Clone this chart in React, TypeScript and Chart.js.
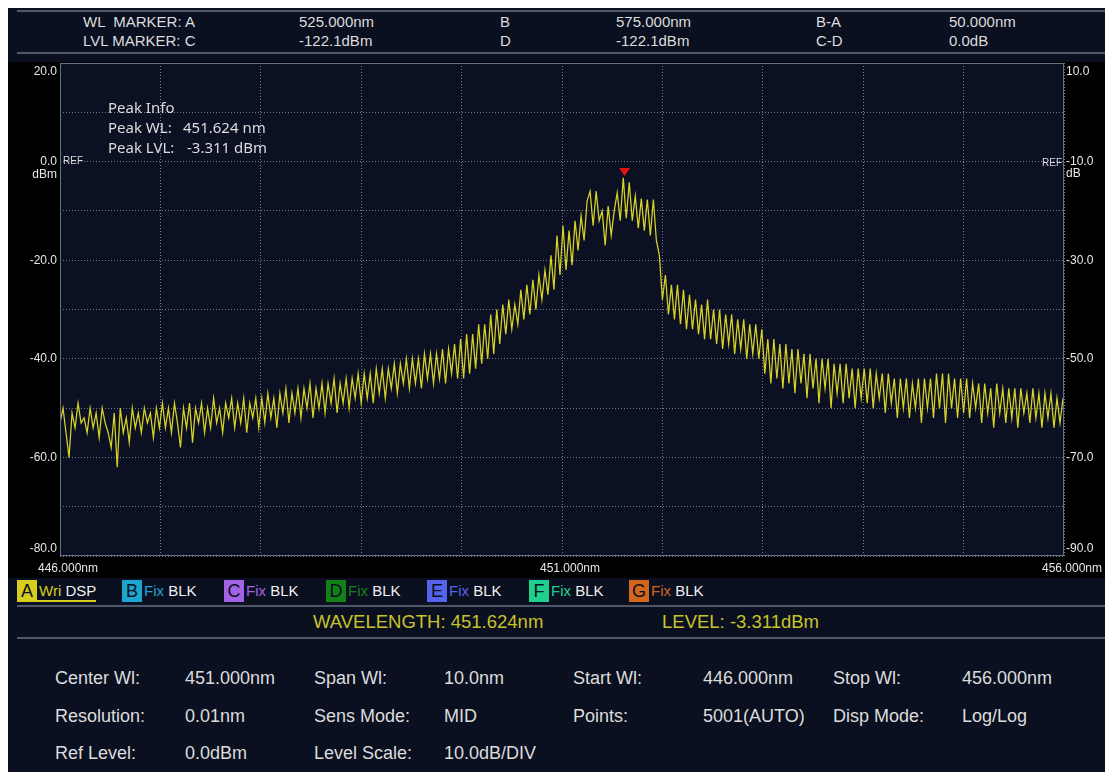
import React, { useEffect, useRef } from "react";
import { Chart, registerables } from "chart.js";

Chart.register(...registerables);

// ---------------- data ----------------
const startWl = 446.0;
const stepWl = 0.03;

const lvl446 = [-53, -50, -55, -60, -51, -54, -49, -53, -52, -55, -50, -54, -51, -56, -50, -53, -55, -58, -51, -62, -50, -55, -52, -57, -50, -54, -51, -55, -50, -53, -51, -56, -50, -54];
const lvl447 = [-49, -54, -50, -55, -49, -53, -58, -50, -54, -49, -57, -50, -53, -49, -55, -50, -54, -48, -53, -50, -55, -49, -52, -48, -54, -49, -53, -48, -55, -49, -52, -48, -54];
const lvl448 = [-48, -53, -47, -52, -48, -54, -47, -51, -46, -53, -47, -51, -46, -52, -46, -50, -45, -52, -46, -50, -45, -51, -45, -49, -44, -51, -45, -49, -44, -50, -44, -48, -43];
const lvl449 = [-49, -43, -48, -43, -49, -42, -47, -42, -48, -42, -46, -41, -47, -41, -45, -40, -46, -40, -45, -40, -46, -39, -44, -39, -45, -39, -44, -38, -45, -38, -43, -37, -44];
const lvl450 = [-36, -44, -35, -43, -35, -42, -33, -41, -33, -40, -31, -39, -30, -37, -29, -35, -28, -34, -29, -33, -26, -32, -25, -31, -24, -30, -23, -28, -22, -27, -19, -26, -15, -23];
const lvl451 = [-13, -22, -14, -21, -12, -18, -11, -16, -8, -6, -13, -6, -12, -10, -17, -9, -15, -10, -6.3, -12, -3.3, -11.5, -4.2, -12, -7, -13.5, -7.5, -14, -7.7, -15, -7.7, -16, -19];
const lvl452 = [-28, -23, -31, -25, -32, -25, -33, -26, -34, -27, -34, -28, -35, -29, -36, -28, -36, -30, -37, -30, -38, -31, -37, -31, -39, -32, -38, -32, -40, -33, -39, -33, -40, -34];
const lvl453 = [-43, -36, -45, -36, -44, -37, -46, -37, -45, -38, -47, -38, -45, -39, -48, -39, -46, -40, -49, -40, -46, -40, -50, -41, -47, -41, -49, -41, -48, -42, -50, -42, -48];
const lvl454 = [-42, -49, -42, -50, -43, -48, -43, -51, -43, -49, -44, -52, -44, -50, -44, -52, -45, -50, -44, -53, -44, -50, -44, -52, -43, -50, -43, -53, -43, -50, -44, -52, -44];
const lvl455 = [-51, -44, -52, -45, -50, -45, -53, -45, -51, -46, -54, -45, -51, -46, -53, -46, -52, -46, -54, -46, -51, -47, -53, -46, -52, -47, -54, -47, -52, -47, -54, -48, -53, -48];

const traceLevels = [...lvl446, ...lvl447, ...lvl448, ...lvl449, ...lvl450, ...lvl451, ...lvl452, ...lvl453, ...lvl454, ...lvl455];

const xMin = 446;
const xMax = 456;
const xTickValues = [446, 451, 456];
const xTickTexts = ["446.000nm", "451.000nm", "456.000nm"];

const leftMin = -80;
const leftMax = 20;
const leftTickValues = [20, 0, -20, -40, -60, -80];
const leftTickTexts = ["20.0", "0.0", "-20.0", "-40.0", "-60.0", "-80.0"];
const leftUnit = "dBm";

const rightMin = -90;
const rightMax = 10;
const rightTickValues = [10, -10, -30, -50, -70, -90];
const rightTickTexts = ["10.0", "-10.0", "-30.0", "-50.0", "-70.0", "-90.0"];
const rightUnit = "dB";

const refLevel = 0;
const peakWl = 451.624;
const peakLvl = -3.311;

const headerRow1 = ["WL  MARKER: A", "525.000nm", "B", "575.000nm", "B-A", "50.000nm"];
const headerRow2 = ["LVL MARKER: C", "-122.1dBm", "D", "-122.1dBm", "C-D", "0.0dB"];

const traceLetters = ["A", "B", "C", "D", "E", "F", "G"];
const traceModes = ["Wri", "Fix", "Fix", "Fix", "Fix", "Fix", "Fix"];
const traceStates = ["DSP", "BLK", "BLK", "BLK", "BLK", "BLK", "BLK"];
const traceColors = ["#d6cd1e", "#1ca6cf", "#a363e6", "#14801a", "#5563ec", "#1fd08f", "#d1661c"];

const infoLabels = [
  ["Center Wl:", "Span Wl:", "Start Wl:", "Stop Wl:"],
  ["Resolution:", "Sens Mode:", "Points:", "Disp Mode:"],
  ["Ref Level:", "Level Scale:"],
];
const infoValues = [
  ["451.000nm", "10.0nm", "446.000nm", "456.000nm"],
  ["0.01nm", "MID", "5001(AUTO)", "Log/Log"],
  ["0.0dBm", "10.0dB/DIV"],
];

// ---------------- styles ----------------
const FONT = '"Liberation Sans", Arial, sans-serif';
const PANEL_BG = "#0b1020";
const PLOT_BG = "#0b1123";
const LINE_COLOR = "#4f5769";
const TEXT_COLOR = "#dcdcdc";
const YELLOW_TEXT = "#c9c22c";
const GRID_COLOR = "rgba(135,142,160,0.85)";
const FRAME_COLOR = "#66728a";
const TRACE_COLOR = "#d8d326";

const near = (a: number, b: number) => Math.abs(a - b) < 1e-6;

const osaPlugin = {
  id: "osaDecor",
  beforeDraw(chart: any) {
    const { ctx, chartArea: a } = chart;
    ctx.save();
    ctx.fillStyle = PLOT_BG;
    ctx.fillRect(a.left, a.top, a.right - a.left, a.bottom - a.top);
    ctx.restore();
  },
  afterDraw(chart: any) {
    const { ctx, chartArea: a } = chart;
    const xs = chart.scales.x;
    const ys = chart.scales.y;
    ctx.save();
    ctx.strokeStyle = FRAME_COLOR;
    ctx.lineWidth = 1;
    ctx.strokeRect(a.left + 0.5, a.top + 0.5, a.right - a.left - 1, a.bottom - a.top - 1);

    const y0 = ys.getPixelForValue(refLevel);
    ctx.font = `10px ${FONT}`;
    ctx.fillStyle = TEXT_COLOR;
    ctx.textBaseline = "alphabetic";
    ctx.textAlign = "left";
    ctx.fillText("REF", a.left + 3, y0 + 2);
    ctx.textAlign = "right";
    ctx.fillText("REF", a.right - 2, y0 + 4);

    const px = xs.getPixelForValue(peakWl);
    const py = ys.getPixelForValue(peakLvl);
    ctx.fillStyle = "#e3120f";
    ctx.beginPath();
    ctx.moveTo(px, py - 2);
    ctx.lineTo(px - 5.5, py - 10);
    ctx.lineTo(px + 5.5, py - 10);
    ctx.closePath();
    ctx.fill();
    ctx.restore();
  },
};

function ChartCanvas() {
  const ref = useRef<HTMLCanvasElement | null>(null);
  useEffect(() => {
    if (!ref.current) return;
    const points = traceLevels.map((v, i) => ({ x: startWl + i * stepWl, y: v }));
    const chart = new Chart(ref.current, {
      type: "line",
      data: {
        datasets: [
          {
            data: points,
            borderColor: TRACE_COLOR,
            borderWidth: 1.25,
            pointRadius: 0,
            tension: 0,
            fill: false,
            xAxisID: "x",
            yAxisID: "y",
          },
        ],
      },
      options: {
        animation: false,
        responsive: false,
        maintainAspectRatio: false,
        events: [],
        layout: { padding: { top: 1, left: 0, right: 0, bottom: 0 } },
        plugins: { legend: { display: false }, tooltip: { enabled: false } },
        scales: {
          x: {
            type: "linear",
            position: "bottom",
            min: xMin,
            max: xMax,
            ticks: {
              stepSize: 1,
              autoSkip: false,
              maxRotation: 0,
              minRotation: 0,
              padding: 5,
              labelOffset: 8,
              color: "#e6e6e6",
              font: { family: FONT, size: 12 },
              callback: (v: any) => {
                const k = xTickValues.findIndex((t) => near(t, Number(v)));
                return k >= 0 ? xTickTexts[k] : "";
              },
            },
            grid: { color: GRID_COLOR, drawTicks: false, lineWidth: 1 },
            border: { display: false, dash: [1, 2] },
            afterFit: (s: any) => {
              s.height = 22;
              s.paddingLeft = 0;
              s.paddingRight = 0;
            },
          },
          y: {
            type: "linear",
            position: "left",
            min: leftMin,
            max: leftMax,
            ticks: {
              stepSize: 10,
              autoSkip: false,
              padding: 3,
              color: "#e6e6e6",
              font: (c: any) => {
                const v = c.tick ? c.tick.value : 0;
                let lh = "13px";
                if (near(v, leftMax)) lh = "18px";
                if (near(v, leftMin)) lh = "14px";
                return { family: FONT, size: 12, lineHeight: lh };
              },
              callback: (v: any) => {
                const n = Number(v);
                const k = leftTickValues.findIndex((t) => near(t, n));
                if (k < 0) return "";
                const t = leftTickTexts[k];
                if (near(n, leftMax)) return ["", t];
                if (near(n, refLevel)) return ["", t, leftUnit];
                if (near(n, leftMin)) return [t, ""];
                return t;
              },
            },
            grid: { color: GRID_COLOR, drawTicks: false, lineWidth: 1 },
            border: { display: false, dash: [1, 2] },
            afterFit: (s: any) => {
              s.width = 52;
              s.paddingTop = 0;
              s.paddingBottom = 0;
            },
          },
          y2: {
            type: "linear",
            position: "right",
            min: rightMin,
            max: rightMax,
            ticks: {
              stepSize: 10,
              autoSkip: false,
              padding: 2,
              color: "#e6e6e6",
              font: (c: any) => {
                const v = c.tick ? c.tick.value : 0;
                let lh = "12px";
                if (near(v, rightMax)) lh = "18px";
                if (near(v, rightMin)) lh = "15px";
                return { family: FONT, size: 12, lineHeight: lh };
              },
              callback: (v: any) => {
                const n = Number(v);
                const k = rightTickValues.findIndex((t) => near(t, n));
                if (k < 0) return "";
                const t = rightTickTexts[k];
                if (near(n, rightMax)) return ["", t];
                if (near(n, refLevel - 10)) return ["", t, rightUnit];
                if (near(n, rightMin)) return [t, ""];
                return t;
              },
            },
            grid: { display: false, drawTicks: false },
            border: { display: false },
            afterFit: (s: any) => {
              s.width = 41;
              s.paddingTop = 0;
              s.paddingBottom = 0;
            },
          },
        },
      } as any,
      plugins: [osaPlugin as any],
    });
    return () => chart.destroy();
  }, []);
  return (
    <canvas
      ref={ref}
      width={1097}
      height={516}
      style={{ position: "absolute", left: 0, top: 54, width: 1097, height: 516, background: "#000" }}
    />
  );
}

const hLine = (top: number) => (
  <div style={{ position: "absolute", left: 9, right: 0, top, height: 2, background: LINE_COLOR }} />
);

export default function App() {
  const headerCols = [75, 291, 492, 608, 808, 941];
  const legendLefts = [9, 114, 216, 318, 419, 521, 621];
  const infoLabelLefts = [47, 306, 565, 825];
  const infoValueLefts = [177, 436, 695, 954];
  const infoTops = [658, 696, 733];
  const txt = (left: number, top: number, size: number, lh: number, color: string, s: string, key?: any, family?: string) => (
    <div
      key={key}
      style={{
        position: "absolute",
        left,
        top,
        fontSize: size,
        lineHeight: `${lh}px`,
        color,
        whiteSpace: "pre",
        fontFamily: family || FONT,
      }}
    >
      {s}
    </div>
  );
  return (
    <div
      style={{
        position: "absolute",
        left: 8,
        top: 8,
        width: 1097,
        height: 764,
        background: PANEL_BG,
        overflow: "hidden",
        fontFamily: FONT,
      }}
    >
      {hLine(2)}
      {headerRow1.map((s, i) => txt(headerCols[i], 5, 15, 18, TEXT_COLOR, s, "h1" + i))}
      {headerRow2.map((s, i) => txt(headerCols[i], 24, 15, 18, TEXT_COLOR, s, "h2" + i))}
      {hLine(44)}

      <ChartCanvas />

      {txt(100, 89, 15, 20, TEXT_COLOR, "Peak Info", "p0", '"Noto Sans", sans-serif')}
      {txt(100, 109, 15, 20, TEXT_COLOR, "Peak WL:", "p1", '"Noto Sans", sans-serif')}
      {txt(175, 109, 15, 20, TEXT_COLOR, peakWl.toFixed(3) + " nm", "p2", '"Noto Sans", sans-serif')}
      {txt(100, 129, 15, 20, TEXT_COLOR, "Peak LVL:", "p3", '"Noto Sans", sans-serif')}
      {txt(179, 129, 15, 20, TEXT_COLOR, peakLvl.toFixed(3) + " dBm", "p4", '"Noto Sans", sans-serif')}

      {traceLetters.map((L, i) => (
        <div key={"lg" + i}>
          <div
            style={{
              position: "absolute",
              left: legendLefts[i],
              top: 572,
              width: 20,
              height: 22,
              background: traceColors[i],
              color: "#0b1020",
              fontSize: 18,
              lineHeight: "22px",
              textAlign: "center",
            }}
          >
            {L}
          </div>
          <div
            style={{
              position: "absolute",
              left: legendLefts[i] + 22,
              top: 572,
              fontSize: 15,
              lineHeight: "22px",
              whiteSpace: "pre",
            }}
          >
            <span style={{ color: traceColors[i] }}>{traceModes[i]}</span>
            <span style={{ color: "#f0f0f0" }}>{" " + traceStates[i]}</span>
          </div>
        </div>
      ))}
      <div style={{ position: "absolute", left: 29, top: 592, width: 59, height: 2, background: traceColors[0] }} />
      {hLine(597)}

      {txt(305, 602, 18.5, 24, YELLOW_TEXT, "WAVELENGTH: " + peakWl.toFixed(3) + "nm", "wl")}
      {txt(654, 602, 18.5, 24, YELLOW_TEXT, "LEVEL: " + peakLvl.toFixed(3) + "dBm", "lv")}
      {hLine(629)}

      {infoLabels.map((row, r) =>
        row.map((s, c) => txt(infoLabelLefts[c], infoTops[r], 18, 24, TEXT_COLOR, s, `il${r}-${c}`))
      )}
      {infoValues.map((row, r) =>
        row.map((s, c) => txt(infoValueLefts[c], infoTops[r], 18, 24, TEXT_COLOR, s, `iv${r}-${c}`))
      )}
    </div>
  );
}
